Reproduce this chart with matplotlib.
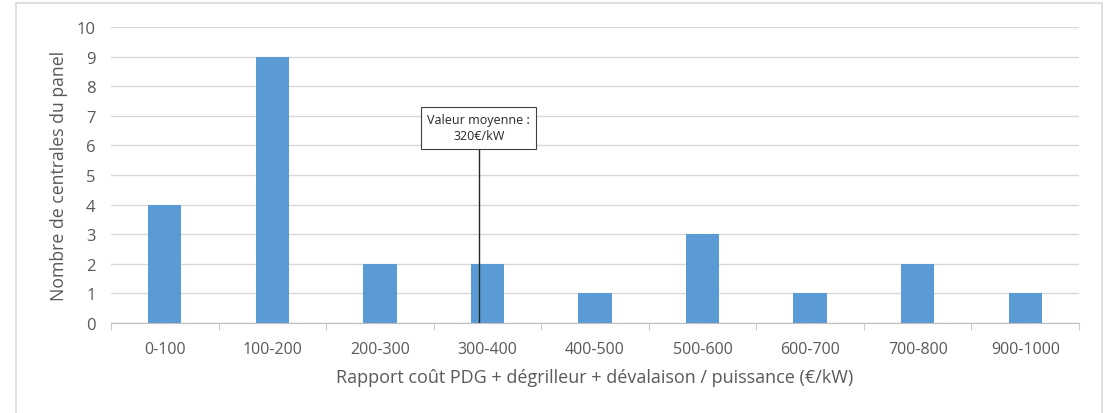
import matplotlib.pyplot as plt
from matplotlib.patches import Rectangle
import numpy as np

categories = ['0-100', '100-200', '200-300', '300-400', '400-500',
              '500-600', '600-700', '700-800', '900-1000']
counts = [4, 9, 2, 2, 1, 3, 1, 2, 1]
mean_label = 'Valeur moyenne :\n320€/kW'
mean_pos = 2.92   # where the marker line sits on the category axis
mean_top = 5.88

plt.rcParams['font.family'] = ['Open Sans', 'DejaVu Sans']

fig = plt.figure(figsize=(11.09, 4.14), dpi=100)
ax = fig.add_axes([0.1001, 0.2174, 0.8729, 0.715])

# outer chart border
fig.patches.append(Rectangle((16 / 1109, -0.05), 1086 / 1109, 1.05 - 4 / 414,
                             transform=fig.transFigure, fill=False,
                             edgecolor='#d9d9d9', linewidth=1.2))

x = np.arange(len(categories))
ax.bar(x, counts, width=0.31, color='#5B9BD5', zorder=2)

ax.set_xlim(-0.5, len(categories) - 0.5)
ax.set_ylim(0, 10)
ax.set_yticks(range(0, 11))
ax.yaxis.grid(True, color='#d9d9d9', linewidth=1)
ax.set_axisbelow(True)

ax.set_xticks(x)
ax.set_xticklabels(categories)
ax.set_xticks(np.arange(-0.5, len(categories)), minor=True)
ax.tick_params(axis='x', which='major', length=0, pad=13, labelsize=11.5, labelcolor='#595959')
ax.tick_params(axis='x', which='minor', length=5, color='#bfbfbf', direction='out')
ax.tick_params(axis='y', length=0, pad=11, labelsize=12, labelcolor='#595959')

for s in ['top', 'right', 'left']:
    ax.spines[s].set_visible(False)
ax.spines['bottom'].set_color('#bfbfbf')

ax.set_xlabel('Rapport coût PDG + dégrilleur + dévalaison / puissance (€/kW)',
              fontsize=13, color='#595959', labelpad=8)
ax.set_ylabel('Nombre de centrales du panel', fontsize=12.7, color='#595959', labelpad=6)

ax.plot([mean_pos, mean_pos], [0, mean_top], color='#262626', linewidth=1, zorder=3)
ax.text(mean_pos, 6.6, mean_label, ha='center', va='center', fontsize=9, color='#262626',
        linespacing=1.35,
        bbox=dict(boxstyle='square,pad=0.5', facecolor='white', edgecolor='#404040', linewidth=0.8),
        zorder=4)

plt.savefig('out.png', dpi=100)
